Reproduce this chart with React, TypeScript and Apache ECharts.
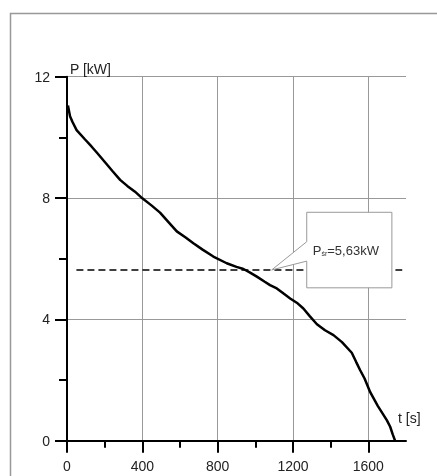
import React, { useEffect, useRef } from "react";
import * as echarts from "echarts";

// Measured curve: time t [s], power P [kW]
const curveT = [5, 16, 30, 51, 96, 130, 158, 202, 240, 282, 320, 361, 400, 450, 494, 540, 583, 630, 671, 720, 777, 848, 900, 937, 970, 1008, 1050, 1078, 1114, 1150, 1185, 1220, 1255, 1290, 1327, 1370, 1415, 1460, 1512, 1535, 1556, 1580, 1610, 1650, 1698, 1716, 1730, 1742];
const curveP = [11.05, 10.7, 10.5, 10.24, 9.93, 9.7, 9.5, 9.18, 8.9, 8.6, 8.4, 8.21, 7.99, 7.75, 7.52, 7.2, 6.9, 6.7, 6.51, 6.3, 6.07, 5.85, 5.73, 5.66, 5.55, 5.41, 5.24, 5.13, 5.02, 4.85, 4.69, 4.55, 4.36, 4.1, 3.84, 3.64, 3.48, 3.25, 2.9, 2.6, 2.33, 2.05, 1.6, 1.15, 0.68, 0.46, 0.2, 0.0];

// Average power line
const avgP = 5.63;
const avgRange = [50, 1780];

// Axis ticks
const xMajorTicks = [0, 400, 800, 1200, 1600];
const xMinorTicks = [200, 600, 1000, 1400];
const xMax = 1800;
const yMax = 12;
const yInterval = 4;

// Callout anchor (data coords)
const calloutTip = [1087, avgP];
const calloutBoxT = [1273, 1725];
const calloutBoxP = [7.53, 5.04];
const calloutAttachP = [6.56, 5.92];

const FONT = "'Liberation Sans', Arial, sans-serif";

export default function App() {
  const ref = useRef<HTMLDivElement>(null);

  useEffect(() => {
    if (!ref.current) return;
    const chart = echarts.init(ref.current, null, { renderer: "svg" });
    const curve = curveT.map((t, i) => [t, curveP[i]]);
    chart.setOption({
      animation: false,
      grid: { left: 67, top: 76.7, right: 31, bottom: 35.3, containLabel: false },
      xAxis: [
        {
          type: "value",
          min: 0,
          max: xMax,
          position: "bottom",
          axisLine: { show: true, lineStyle: { color: "#000", width: 2 } },
          axisTick: { show: true, customValues: xMajorTicks, length: 12, lineStyle: { color: "#000", width: 2 } },
          axisLabel: {
            show: true,
            customValues: xMajorTicks,
            margin: 18,
            fontSize: 14,
            color: "#222",
            fontFamily: FONT,
            formatter: (v: number) => String(v),
          },
          splitLine: { show: true, lineStyle: { color: "#999", width: 1 } },
          minorTick: { show: false },
        },
        {
          type: "value",
          min: 0,
          max: xMax,
          position: "bottom",
          offset: 0,
          axisLine: { show: false },
          axisTick: { show: true, customValues: xMinorTicks, length: 7, lineStyle: { color: "#000", width: 2 } },
          axisLabel: { show: false },
          splitLine: { show: false },
        },
      ],
      yAxis: {
        type: "value",
        min: 0,
        max: yMax,
        interval: yInterval,
        name: "P [kW]",
        nameLocation: "end",
        nameGap: 1,
        nameTextStyle: { align: "left", verticalAlign: "bottom", padding: [0, 0, 0, 3], fontSize: 14, color: "#222", fontFamily: FONT },
        axisLine: { show: true, lineStyle: { color: "#000", width: 2 } },
        axisTick: { show: true, length: 12, lineStyle: { color: "#000", width: 2 } },
        minorTick: { show: true, splitNumber: 2, length: 8, lineStyle: { color: "#000", width: 2 } },
        axisLabel: { margin: 17, fontSize: 14, color: "#222", fontFamily: FONT, formatter: (v: number) => String(v) },
        splitLine: { show: true, lineStyle: { color: "#999", width: 1 } },
      },
      series: [
        {
          type: "line",
          data: [[avgRange[0], avgP], [avgRange[1], avgP]],
          symbol: "none",
          lineStyle: { color: "#000", width: 1.5, type: [7, 4] },
          z: 3,
        },
        {
          type: "line",
          data: curve,
          symbol: "none",
          lineStyle: { color: "#000", width: 2.5 },
          z: 4,
        },
      ],
    });

    const px = (t: number, p: number) => chart.convertToPixel({ gridIndex: 0 }, [t, p]) as number[];
    const tl = px(calloutBoxT[0], calloutBoxP[0]);
    const br = px(calloutBoxT[1], calloutBoxP[1]);
    const a1 = px(calloutBoxT[0], calloutAttachP[0]);
    const a2 = px(calloutBoxT[0], calloutAttachP[1]);
    const tip = px(calloutTip[0], calloutTip[1]);

    chart.setOption({
      graphic: [
        {
          type: "rect",
          shape: { x: 10.5, y: 13.5, width: 460, height: 500 },
          style: { fill: "none", stroke: "#999", lineWidth: 1.5 },
          z: 0,
          silent: true,
        },
        {
          type: "polygon",
          shape: {
            points: [
              [tl[0], tl[1]],
              [br[0], tl[1]],
              [br[0], br[1]],
              [tl[0], br[1]],
              [a2[0], a2[1]],
              [tip[0], tip[1]],
              [a1[0], a1[1]],
            ],
          },
          style: { fill: "#fff", stroke: "#999", lineWidth: 1 },
          z: 100,
        },
        {
          type: "text",
          x: tl[0] + 6,
          y: (tl[1] + br[1]) / 2,
          style: {
            text: "{a|P}{b|śr}{a|=5,63kW}",
            verticalAlign: "middle",
            rich: {
              a: { fontSize: 13, fill: "#333", fontFamily: FONT, verticalAlign: "bottom" },
              b: { fontSize: 7, fill: "#333", fontFamily: FONT, verticalAlign: "bottom" },
            },
          },
          z: 101,
        },
        {
          type: "text",
          x: 398,
          y: 425,
          style: { text: "t [s]", fontSize: 14, fill: "#222", fontFamily: FONT, verticalAlign: "bottom" },
          z: 101,
        },
      ],
    });

    return () => chart.dispose();
  }, []);

  return <div ref={ref} style={{ position: "fixed", left: 0, top: 0, width: 437, height: 476 }} />;
}
